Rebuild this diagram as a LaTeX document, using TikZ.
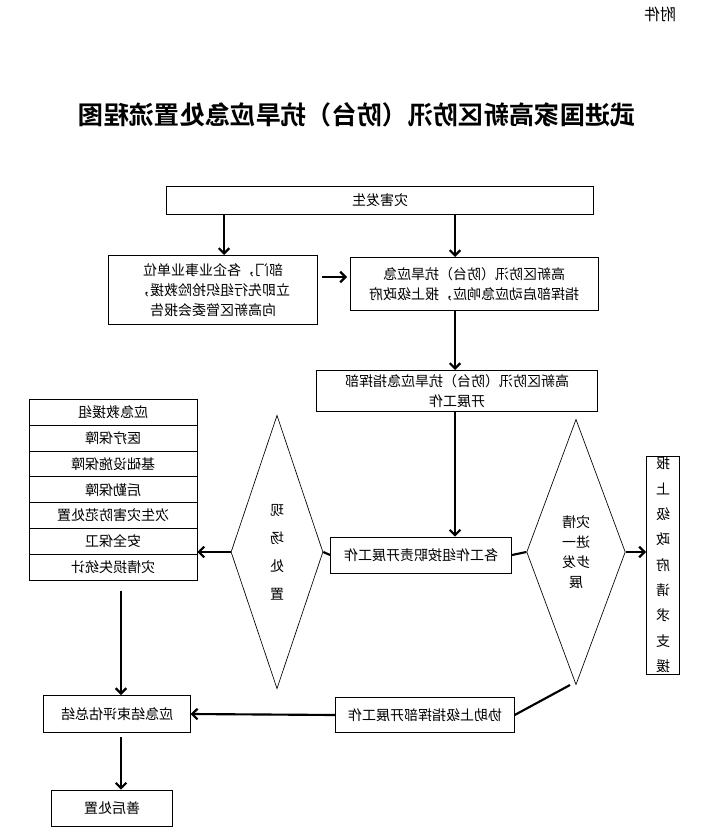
\documentclass[tikz,border=0pt]{standalone}
\usepackage{fontspec}
\newfontfamily\cjk{Noto Sans CJK SC}
\newfontfamily\cjkb{Noto Sans CJK SC Bold}
\usetikzlibrary{arrows.meta, positioning, calc, shapes.geometric}

\begin{document}
\begin{tikzpicture}[
    x=0.75pt, y=-0.75pt,
    every node/.style={xscale=-1, align=center, inner sep=2pt, font=\cjk\fontsize{10.5}{15}\selectfont},
    box/.style={draw, line width=0.5pt, minimum width=#1, minimum height=20pt},
    dia/.style={draw, diamond, line width=0.5pt, minimum width=#1, aspect=0.34},
    >={Straight Barb[length=4pt, width=8pt]},
    link/.style={->, line width=1.6pt}
]
\useasboundingbox (0,0) rectangle (713,838);
% title (nodes are mirrored, so east/west swap below)
\node (title) at (357,115) {\cjkb\fontsize{19}{24}\selectfont 武进国家高新区防汛（防台）抗旱应急处置流程图};
\node (annex) at (660,14)  {\fontsize{12}{14}\selectfont 附件};

\node (start)  at (380,200) [box=320pt, minimum height=21pt] {灾害发生};
\node (units)  at (213,290) [box=157pt, minimum height=52pt] {部门，各企业事业单位\\立即先行组织抢险救援，\\向高新区管委会报告};
\node (hq)     at (474,284) [box=186pt, minimum height=40pt] {高新区防汛（防台）抗旱应急\\指挥部启动应急响应，报上级政府};
\node (hqwork) at (457,391) [box=211pt, minimum height=31pt] {高新区防汛（防台）抗旱应急指挥部\\开展工作};
\node (groups) at (421,555) [box=136pt, minimum height=27pt] {各工作组按职责开展工作};

% work groups
\foreach \t [count=\i] in {应急救援组, 医疗保障, 基础设施保障, 后勤保障, 次生灾害防范处置, 安全保卫, 灾情损失统计}
  \node (g\i) at (113,{399+13+(\i-1)*25.9}) [box=126pt, minimum height=19.4pt] {\t};

\node (site)   at (277,552) [dia=69pt, minimum height=205pt, aspect=0.34] {现\\[6pt]场\\[6pt]处\\[6pt]置};
\node (spread) at (576,552) [dia=74pt, minimum height=199pt, aspect=0.37] {灾情\\进一\\步发\\展};
\node (report) at (663,565) [box=25pt, minimum height=161pt, inner sep=1pt] {报\\[4pt]上\\[4pt]级\\[4pt]政\\[4pt]府\\[4pt]请\\[4pt]求\\[4pt]支\\[4pt]援};

\node (assist) at (425,715) [box=134pt, minimum height=26pt] {协助上级指挥部开展工作};
\node (close)  at (117,714) [box=110pt, minimum height=28pt] {应急结束评估总结};
\node (after)  at (112,808) [box=91pt, minimum height=27pt] {善后处置};

\coordinate (s1) at (224,214);
\coordinate (s2) at (455,214);
\draw[link] (s1) -- (units.north -| s1);
\draw[link] (s2) -- (hq.north -| s2);
\draw[link] (units.west |- 0,277) ++(4,0) -- ([xshift=-2]hq.east |- 0,277);
\draw[link] (hq.south -| hqwork) ++(-2,0) coordinate (h1) -- (hqwork.north -| h1);
\draw[link] (hqwork.south -| groups) ++(34,0) coordinate (h2) -- (groups.north -| h2);
\draw[line width=1.6pt] (groups.east) -- (site.west);
\draw[link] (site.east) -- (g7.west |- site.east);
\draw[line width=1.6pt] (groups.west) -- (spread.east);
\draw[link] (spread.west) -- (report.east |- spread.west);
\draw[line width=1.6pt] (spread.south) ++(-6,0) -- (assist.west);
\draw[link] (assist.east) -- (close.west);
\draw[link] (g7.south) ++(8,10) coordinate (l1) -- (close.north -| l1);
\draw[link] (close.south) ++(4,4) coordinate (l2) -- (after.north -| l2);
\end{tikzpicture}
\end{document}
